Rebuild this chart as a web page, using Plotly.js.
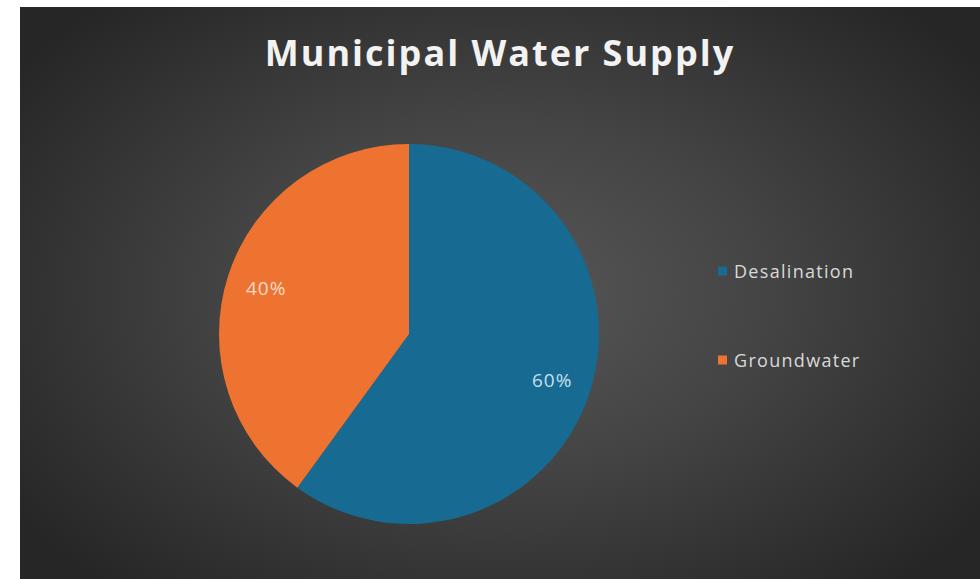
<!DOCTYPE html>
<html><head><meta charset="utf-8">
<script src="https://cdn.plot.ly/plotly-3.0.1.min.js"></script>
<style>
html,body{margin:0;padding:0;background:#ffffff;width:980px;height:579px;overflow:hidden;}
#chart{position:absolute;left:20px;top:7px;width:960px;height:572px;
background:radial-gradient(ellipse 62% 68% at 50% 50%, #575757 0%, #444444 45%, #2e2e2e 85%, #262626 100%);}
</style></head>
<body><div id="chart"></div>
<script>
const titleText = "Municipal Water Supply";
const labels = ["Desalination", "Groundwater"];
const values = [60, 40];
const colors = ["#176a91", "#ee7331"];
const labelColors = ["#c4e0ef", "#f9dccb"];

const W = 960, H = 572;
const cx = 389, cy = 327, R = 190;           // pie centre / radius in px (paper)
const legendX = (718 - 20) / W;
const legendY0 = 1 - (271 - 7) / H;
const legendStep = 89 / H;

const ls = (t, px) => '<span style="letter-spacing:' + px + 'px">' + t + '</span>';

const total = values.reduce((a, b) => a + b, 0);
let cum = 0;
const pctAnn = values.map((v, i) => {
  const mid = (cum + v / 2) / total; cum += v;
  const ang = mid * 2 * Math.PI;             // clockwise from 12 o'clock
  const rr = 0.79 * R;
  const px = cx + rr * Math.sin(ang), py = cy - rr * Math.cos(ang);
  return {xref: 'paper', yref: 'paper', x: px / W, y: 1 - py / H,
    xanchor: 'center', yanchor: 'middle', showarrow: false,
    text: ls(Math.round(v / total * 100) + '%', 1),
    font: {family: 'Open Sans, sans-serif', size: 19, color: labelColors[i]}};
});

const legAnn = labels.map((l, i) => ({
  xref: 'paper', yref: 'paper', x: legendX + 14 / W, y: legendY0 - i * legendStep,
  xanchor: 'left', yanchor: 'middle', showarrow: false, text: ls(l, 1.3),
  font: {family: 'Open Sans, sans-serif', size: 18, color: '#d9d9d9'}
}));
const shapes = labels.map((l, i) => ({
  type: 'rect', xref: 'paper', yref: 'paper', line: {width: 0}, fillcolor: colors[i],
  x0: legendX, x1: legendX + 9 / W,
  y0: legendY0 - i * legendStep - 4.5 / H, y1: legendY0 - i * legendStep + 4.5 / H
}));

const data = [{
  type: 'pie', labels: labels, values: values, sort: false, direction: 'clockwise', rotation: 0,
  marker: {colors: colors, line: {width: 0}},
  textinfo: 'none',
  domain: {x: [(cx - R) / W, (cx + R) / W], y: [(H - cy - R) / H, (H - cy + R) / H]},
  hoverinfo: 'label+percent', showlegend: false
}];

const layout = {
  width: W, height: H, margin: {l: 0, r: 0, t: 0, b: 0},
  paper_bgcolor: 'rgba(0,0,0,0)', plot_bgcolor: 'rgba(0,0,0,0)',
  title: {text: '<b>' + ls(titleText, 2) + '</b>', x: (500 - 20) / W, xanchor: 'center',
          y: 1 - (53 - 7) / H, yanchor: 'middle', yref: 'container',
          font: {family: 'Open Sans, sans-serif', size: 36, color: '#f2f2f2'}},
  showlegend: false, annotations: pctAnn.concat(legAnn), shapes: shapes
};
Plotly.newPlot('chart', data, layout, {displayModeBar: false, staticPlot: true});
</script></body></html>
